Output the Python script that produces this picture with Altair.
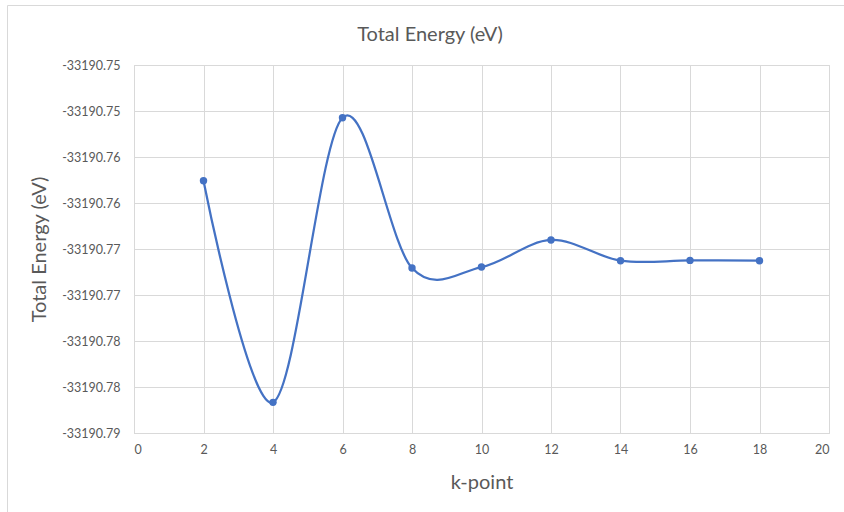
import altair as alt
import pandas as pd

# Data
k_points = [2, 4, 6, 8, 10, 12, 14, 16, 18]
energies = [-33190.75758, -33190.78167, -33190.75073, -33190.76707, -33190.76696,
            -33190.76402, -33190.76627, -33190.76624, -33190.76627]

y_ticks = [-33190.745, -33190.75, -33190.755, -33190.76, -33190.765,
           -33190.77, -33190.775, -33190.78, -33190.785]
y_tick_labels = ["-33190.75", "-33190.75", "-33190.76", "-33190.76", "-33190.77",
                 "-33190.77", "-33190.78", "-33190.78", "-33190.79"]
x_ticks = [0, 2, 4, 6, 8, 10, 12, 14, 16, 18, 20]
chart_title = "Total Energy (eV)"

df = pd.DataFrame({"k": k_points, "E": energies})

FONT = "Lato"
GRID = "#D9D9D9"
TXT = "#595959"
BLUE = "#4472C4"

label_arr = "[" + ",".join("'%s'" % s for s in y_tick_labels) + "]"
label_expr = f"{label_arr}[round(({y_ticks[0]} - datum.value) / 0.005)]"

x_enc = alt.X("k:Q", scale=alt.Scale(domain=[0, 20], nice=False, zero=False),
              axis=alt.Axis(values=x_ticks, title="k-point", grid=True, gridColor=GRID,
                            domainColor=GRID, ticks=False, labelPadding=10,
                            labelFontSize=12.5, labelColor=TXT, labelFont=FONT,
                            titleFont=FONT, titleFontSize=20, titleColor=TXT,
                            titleFontWeight="normal", titlePadding=17))
y_enc = alt.Y("E:Q", scale=alt.Scale(domain=[y_ticks[-1], y_ticks[0]], nice=False, zero=False),
              axis=alt.Axis(values=y_ticks, labelExpr=label_expr, title="Total Energy (eV)",
                            grid=True, gridColor=GRID, domainColor=GRID, ticks=False,
                            labelPadding=14, labelFontSize=12.5, labelColor=TXT, labelFont=FONT,
                            titleFont=FONT, titleFontSize=20, titleColor=TXT,
                            titleFontWeight="normal", titlePadding=12))

line = alt.Chart(df).mark_line(color=BLUE, strokeWidth=2.25, interpolate="cardinal").encode(x=x_enc, y=y_enc)
pts = alt.Chart(df).mark_point(color=BLUE, filled=True, opacity=1, size=55).encode(x="k:Q", y="E:Q")

one = pd.DataFrame({"a": [0]})
border = alt.Chart(one).mark_rect(
    fill=None, stroke=GRID, strokeWidth=1
).encode(x=alt.value(-126.5), x2=alt.value(730), y=alt.value(-59.5), y2=alt.value(470))

title = alt.Chart(one).mark_text(
    font=FONT, fontSize=20, color=TXT, align="center", baseline="alphabetic"
).encode(x=alt.value(296), y=alt.value(-24), text=alt.value(chart_title))

chart = alt.layer(border, line, pts, title).properties(
    width=695, height=368,
    autosize=alt.AutoSizeParams(type="none"),
    padding={"left": 134, "top": 65, "right": 15, "bottom": 79},
    background="white",
).configure_view(stroke=GRID)

chart.save("out.html", embed_options={"renderer": "svg", "actions": False})
